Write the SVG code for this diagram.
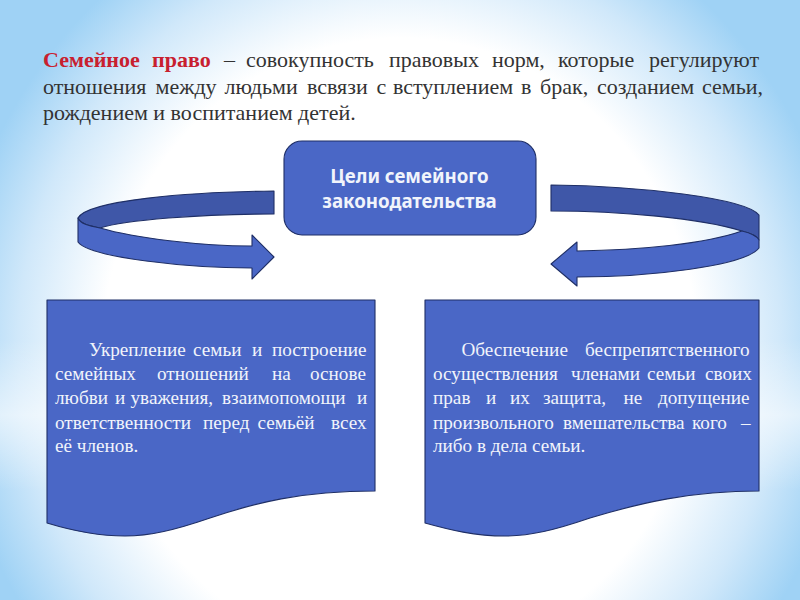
<svg xmlns="http://www.w3.org/2000/svg" width="800" height="600" viewBox="0 0 800 600">
<defs>
<radialGradient id="bg" gradientUnits="userSpaceOnUse" cx="400" cy="350" r="450" gradientTransform="translate(400 350) scale(1 1.05) translate(-400 -350)">
<stop offset="0" stop-color="#ffffff"/><stop offset=".66" stop-color="#ffffff"/><stop offset=".85" stop-color="#d0e8fa"/><stop offset="1" stop-color="#9fd2f5"/>
</radialGradient>
<linearGradient id="band" x1="0" y1="0" x2="0" y2="1">
<stop offset="0" stop-color="#ffffff" stop-opacity="0"/><stop offset=".5" stop-color="#ffffff" stop-opacity=".55"/><stop offset="1" stop-color="#ffffff" stop-opacity="0"/>
</linearGradient>
</defs>
<style>
.s{stroke:#1f2f66;stroke-width:1.1;stroke-linejoin:round}
.f{fill:#4a67c6}.d{fill:#3f57a8}
.t{font-family:"Liberation Serif","Times New Roman",serif}
.top{font-size:22px;fill:#333333}
.b{font-size:19.2px;fill:#f1f4fb}
.h{font-family:"Noto Sans","DejaVu Sans",sans-serif;font-size:18.7px;font-weight:700;fill:#f1f4fb;text-anchor:middle}
</style>
<rect width="800" height="600" fill="url(#bg)"/>
<rect y="340" width="800" height="150" fill="url(#band)"/>
<g id="definition" class="t top">
<text y="67"><tspan x="43" font-weight="700" fill="#c8202f">Семейное</tspan><tspan x="152" font-weight="700" fill="#c8202f">право</tspan><tspan x="224">–</tspan><tspan x="246">совокупность</tspan><tspan x="389">правовых</tspan><tspan x="492">норм,</tspan><tspan x="558">которые</tspan><tspan x="649">регулируют</tspan></text>
<text y="93.5"><tspan x="43">отношения</tspan><tspan x="155.5">между</tspan><tspan x="224.5">людьми</tspan><tspan x="307">всвязи</tspan><tspan x="376.5">с</tspan><tspan x="393">вступлением</tspan><tspan x="521">в</tspan><tspan x="540">брак,</tspan><tspan x="597">созданием</tspan><tspan x="702">семьи,</tspan></text>
<text x="43" y="120">рождением и воспитанием детей.</text>
</g>
<g id="connectors">
<g id="arrow-left">
<path class="s d" d="M274,191 C190,192 88,200 78,218 C80,224 90,226 100,228 C125,220 200,214 274,214 Z"/>
<path class="s f" d="M78,218 C80,224 90,226 100,228 C135,238 200,246 252,246 L252,235 L274,257 L252,279 L252,268 C190,268 90,258 78,242 Z"/>
</g>
<g id="arrow-right">
<path class="s d" d="M551,185 C640,186 745,198 759,215 L759,240 C757,236 750,233 742,231 C700,218 620,211 551,211 Z"/>
<path class="s f" d="M742,231 C750,233 757,236 759,240 L759,248 C745,266 650,277 577,277 L577,286 L551,264 L577,242 L577,251 C640,250 705,244 742,231 Z"/>
</g>
</g>
<g id="goal">
<rect class="s f" x="284" y="141" width="252" height="94" rx="18"/>
<text class="h" x="409.5" y="183">Цели семейного</text>
<text class="h" x="409.5" y="207.5">законодательства</text>
</g>
<g id="doc-left">
<path class="s f" d="M47,300 H375 V491 C300,491 255,503 210,518 C175,530 150,536 125,536 C95,536 70,530 47,523 Z"/>
<g class="t b">
<text y="356"><tspan x="89">Укрепление</tspan><tspan x="193">семьи</tspan><tspan x="252">и</tspan><tspan x="272">построение</tspan></text>
<text y="379.5"><tspan x="55">семейных</tspan><tspan x="157">отношений</tspan><tspan x="272">на</tspan><tspan x="310">основе</tspan></text>
<text y="404"><tspan x="55">любви</tspan><tspan x="115">и</tspan><tspan x="130.5">уважения,</tspan><tspan x="222">взаимопомощи</tspan><tspan x="357">и</tspan></text>
<text y="428.5"><tspan x="55">ответственности</tspan><tspan x="203">перед</tspan><tspan x="257.5">семьёй</tspan><tspan x="331">всех</tspan></text>
<text x="55" y="452">её членов.</text>
</g>
</g>
<g id="doc-right">
<path class="s f" d="M425,300 H759 V491 C690,491 640,503 590,518 C555,530 530,536 505,536 C475,536 450,530 425,523 Z"/>
<g class="t b">
<text y="356"><tspan x="461.5">Обеспечение</tspan><tspan x="585">беспрепятственного</tspan></text>
<text y="379.5"><tspan x="433">осуществления</tspan><tspan x="571">членами</tspan><tspan x="647">семьи</tspan><tspan x="705">своих</tspan></text>
<text y="404"><tspan x="433">прав</tspan><tspan x="486">и</tspan><tspan x="510">их</tspan><tspan x="543">защита,</tspan><tspan x="623.5">не</tspan><tspan x="658">допущение</tspan></text>
<text y="428.5"><tspan x="433">произвольного</tspan><tspan x="563">вмешательства</tspan><tspan x="692">кого</tspan><tspan x="741">–</tspan></text>
<text x="433" y="452">либо в дела семьи.</text>
</g>
</g>
</svg>
